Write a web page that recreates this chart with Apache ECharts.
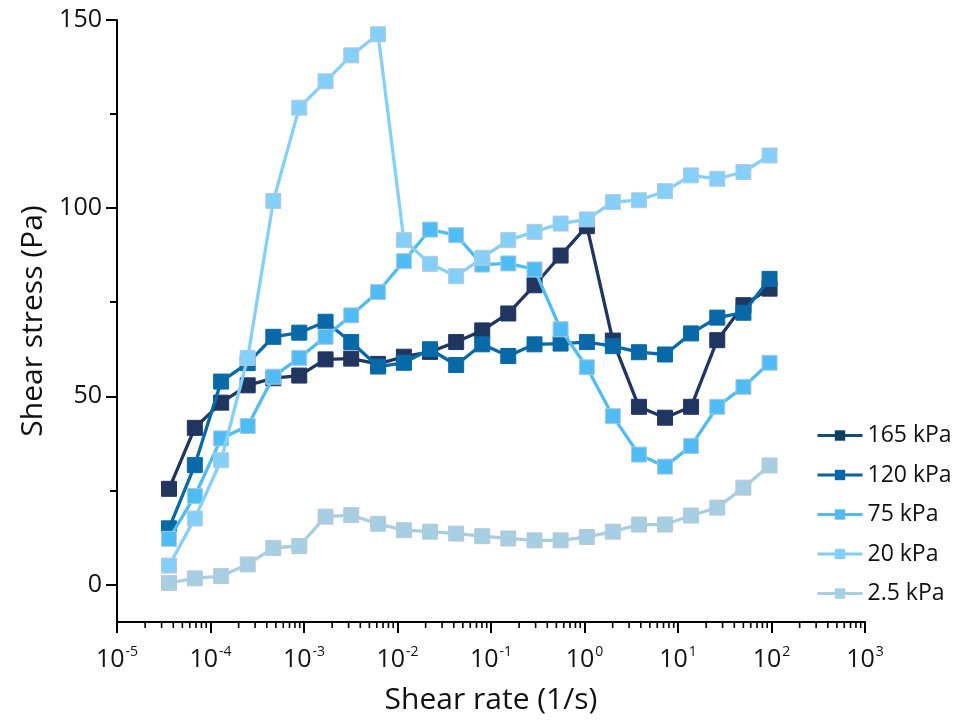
<!DOCTYPE html>
<html><head><meta charset="utf-8">
<script src="https://cdn.jsdelivr.net/npm/echarts@6/dist/echarts.min.js"></script>
<style>html,body{margin:0;padding:0;background:#fff}#c{width:954px;height:726px}</style>
</head><body><div id="c"></div>
<script>
// Shear rate (1/s) for each measured point
const shearRate = [3.6e-5, 6.8e-5, 1.3e-4, 2.5e-4, 4.7e-4, 8.9e-4, 1.7e-3, 3.2e-3, 6.2e-3, 0.0117, 0.0223, 0.0424,
  0.0806, 0.153, 0.292, 0.555, 1.06, 2.01, 3.82, 7.27, 13.8, 26.3, 50.1, 95.3];
// Shear stress (Pa)
const s165 = [25.4, 41.6, 48.3, 52.9, 54.8, 55.5, 59.8, 60.0, 58.6, 60.5, 61.8, 64.4, 67.5, 72.0, 79.5, 87.4, 95.2, 64.8, 47.2, 44.3, 47.2, 64.9, 74.2, 78.6];
const s120 = [14.9, 31.7, 53.9, 58.8, 65.8, 66.9, 69.8, 64.4, 57.9, 58.9, 62.5, 58.3, 63.8, 60.7, 63.8, 64.0, 64.4, 63.3, 61.7, 61.1, 66.7, 70.9, 72.2, 81.2];
const s75 = [12.1, 23.5, 38.8, 42.1, 55.2, 60.2, 65.8, 71.5, 77.7, 85.9, 94.3, 92.8, 85.0, 85.3, 83.7, 67.8, 57.7, 44.7, 34.5, 31.3, 36.8, 47.2, 52.5, 58.9];
const s20 = [5.0, 17.5, 33.0, 60.2, 101.9, 126.7, 133.7, 140.6, 146.2, 91.5, 85.2, 81.9, 86.8, 91.5, 93.7, 95.9, 97.0, 101.6, 102.1, 104.5, 108.7, 107.8, 109.6, 114.0];
const s2_5 = [0.4, 1.6, 2.2, 5.3, 9.7, 10.2, 18.0, 18.4, 16.1, 14.4, 14.0, 13.5, 12.8, 12.2, 11.7, 11.7, 12.6, 14.0, 15.9, 15.9, 18.3, 20.4, 25.7, 31.6];
const seriesNames = ['165 kPa', '120 kPa', '75 kPa', '20 kPa', '2.5 kPa'];

// Axis ticks
const yMajorTicks = [0, 50, 100, 150];
const yMinorTicks = [25, 75, 125];
const xDecades = [-5, -4, -3, -2, -1, 0, 1, 2];
const xMinorMultipliers = [2, 3, 4, 5, 6, 7, 8, 9];

const FONT = 'Open Sans';
const Y_MIN = -10, Y_MAX = 150;
const xMinorTicks = [];
xDecades.forEach(e => xMinorMultipliers.forEach(m => xMinorTicks.push(m * Math.pow(10, e))));

const styles = [
  {color: '#203661', legendLine: '#124d72', legendMark: '#0c3f61', border: '#203661'},
  {color: '#0869a8', legendLine: '#0a64a0', legendMark: '#0666aa', border: '#0869a8'},
  {color: '#4fbcf6', legendLine: '#5cb4e6', legendMark: '#55b8ee', border: '#a9c9dc'},
  {color: '#84d0fb', legendLine: '#86ccf2', legendMark: '#84d0fb', border: '#b5c9d6'},
  {color: '#a7cfe4', legendLine: '#a8cde0', legendMark: '#a7cfe4', border: '#bcc8d0'}
];
const values = [s165, s120, s75, s20, s2_5];

const series = values.map((vals, k) => ({
  name: seriesNames[k],
  type: 'line',
  xAxisIndex: 0, yAxisIndex: 0,
  data: shearRate.map((x, i) => [x, vals[i]]),
  symbol: 'rect',
  symbolSize: 15,
  showSymbol: true,
  clip: false,
  lineStyle: {color: styles[k].color, width: 3.3},
  itemStyle: {color: styles[k].color, borderColor: styles[k].border, borderWidth: 1},
  emphasis: {disabled: true},
  z: 2 + k
}));

// minor log ticks drawn through the axis scale
series.push({
  type: 'custom',
  xAxisIndex: 0, yAxisIndex: 0,
  silent: true,
  clip: false,
  z: 1,
  data: xMinorTicks.map(v => [v, Y_MIN]),
  encode: {x: 0, y: 1},
  renderItem: (params, api) => {
    const p = api.coord([api.value(0), api.value(1)]);
    return {
      type: 'line',
      shape: {x1: p[0], y1: p[1], x2: p[0], y2: p[1] + 6},
      style: {stroke: '#000', lineWidth: 1.6}
    };
  }
});

const chart = echarts.init(document.getElementById('c'), null, {renderer: 'canvas'});
chart.setOption({
  animation: false,
  backgroundColor: '#fff',
  textStyle: {fontFamily: FONT},
  grid: {left: 117, right: 89, top: 20, bottom: 104, outerBoundsMode: 'none'},
  legend: {
    orient: 'vertical', left: 811, top: 419,
    itemWidth: 45, itemHeight: 13, itemGap: 16.5,
    textStyle: {fontFamily: FONT, fontSize: 23, color: '#111'},
    data: seriesNames.map((n, k) => ({
      name: n,
      itemStyle: {color: styles[k].legendMark, borderWidth: 0},
      lineStyle: {color: styles[k].legendLine, width: 3}
    }))
  },
  xAxis: [
    {
      type: 'log', logBase: 10, min: 1e-5, max: 1e3, splitNumber: 8,
      axisLine: {show: true, onZero: false, lineStyle: {color: '#000', width: 2}},
      axisTick: {show: true, inside: false, length: 11, lineStyle: {color: '#000', width: 2}},
      splitLine: {show: false},
      axisLabel: {
        margin: 20,
        formatter: v => '{b|10}{s|' + Math.round(Math.log10(v)) + '}',
        rich: {
          b: {fontFamily: FONT, fontSize: 25, color: '#111', lineHeight: 30, verticalAlign: 'bottom'},
          s: {fontFamily: FONT, fontSize: 14, color: '#111', verticalAlign: 'top', padding: [3, 0, 0, 1]}
        }
      },
      name: 'Shear rate (1/s)', nameLocation: 'middle', nameGap: 63,
      nameTextStyle: {fontFamily: FONT, fontSize: 30, color: '#111'}
    }
  ],
  yAxis: [
    {
      type: 'value', min: Y_MIN, max: Y_MAX, position: 'left',
      axisLine: {show: true, onZero: false, lineStyle: {color: '#000', width: 2}},
      axisTick: {show: true, length: 11, customValues: yMajorTicks, lineStyle: {color: '#000', width: 2}},
      axisLabel: {customValues: yMajorTicks, fontFamily: FONT, fontSize: 25, color: '#111', margin: 15},
      splitLine: {show: false},
      name: 'Shear stress (Pa)', nameLocation: 'middle', nameGap: 64, nameRotate: 90,
      nameTextStyle: {fontFamily: FONT, fontSize: 30, color: '#111'}
    },
    {
      type: 'value', min: Y_MIN, max: Y_MAX, position: 'left', offset: 0,
      axisLine: {show: false, onZero: false},
      axisTick: {show: true, length: 7, customValues: yMinorTicks, lineStyle: {color: '#000', width: 2}},
      axisLabel: {show: false},
      splitLine: {show: false}
    }
  ],
  series: series
});
</script>
</body></html>
